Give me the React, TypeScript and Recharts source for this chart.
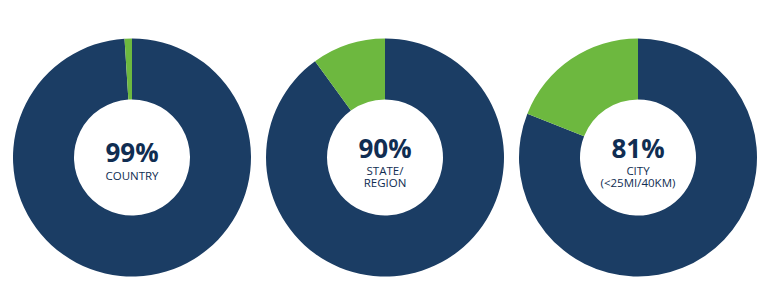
import React from "react";
import { PieChart, Pie, Cell, Label } from "recharts";

const categories = ["Yes", "No"];
const countryValues = [99, 1];
const stateValues = [90, 10];
const cityValues = [81, 19];
const centerValues = ["99%", "90%", "81%"];
const centerLabels: string[][] = [["COUNTRY"], ["STATE/", "REGION"], ["CITY", "(<25MI/40KM)"]];

const COLORS = ["#1b3d64", "#6db83f"];
const TEXT = "#102d52";
const FONT = "'Open Sans', 'Noto Sans', sans-serif";

const toData = (vals: number[]) => categories.map((c, i) => ({ name: c, value: vals[i] }));

const series = [countryValues, stateValues, cityValues];
const centersX = [132, 385, 638];
const centerY = 157.5;

const centerContent = (idx: number) => () => {
  const cx = centersX[idx];
  const cy = centerY;
  const lines = centerLabels[idx];
  const single = lines.length === 1;
  const pctY = single ? cy + 4.5 : cy;
  const firstLineY = single ? cy + 22 : cy + 17;
  return (
    <g>
      <text x={cx} y={pctY} textAnchor="middle" fill={TEXT} fontFamily={FONT} fontWeight={700} fontSize={26}>
        {centerValues[idx]}
      </text>
      {lines.map((l, i) => (
        <text key={i} x={cx} y={firstLineY + i * 12} textAnchor="middle" fill={TEXT} fontFamily={FONT} fontSize={11.5}>
          {l}
        </text>
      ))}
    </g>
  );
};

export default function App() {
  return (
    <div style={{ position: "absolute", left: 0, top: 0, width: 770, height: 305, background: "#fff" }}>
      <PieChart width={770} height={305} margin={{ top: 0, right: 0, bottom: 0, left: 0 }}>
        {series.map((vals, idx) => (
          <Pie
            key={idx}
            data={toData(vals)}
            dataKey="value"
            nameKey="name"
            cx={centersX[idx]}
            cy={centerY}
            innerRadius={58}
            outerRadius={119}
            startAngle={90}
            endAngle={-270}
            stroke="none"
            isAnimationActive={false}
          >
            {vals.map((_, i) => (
              <Cell key={i} fill={COLORS[i]} />
            ))}
            <Label position="center" content={centerContent(idx)} />
          </Pie>
        ))}
      </PieChart>
    </div>
  );
}
